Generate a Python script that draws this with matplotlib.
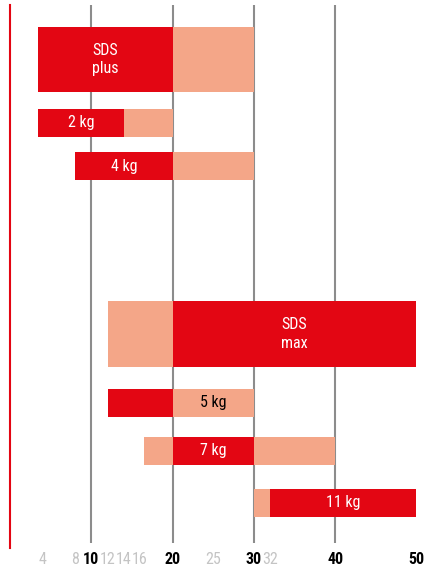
import matplotlib
matplotlib.use('Agg')
import matplotlib.pyplot as plt
from matplotlib import font_manager

# chart data: drill diameter ranges (mm) for each hammer class
row_labels = ['SDS\nplus', '2 kg', '4 kg', 'SDS\nmax', '5 kg', '7 kg', '11 kg']
dark_start = [3.5, 3.5, 8, 20, 12, 20, 32]
dark_end = [20, 14, 20, 50, 20, 30, 50]
light_ranges = [[(20, 30)], [(14, 20)], [(20, 30)], [(12, 20)],
                [(20, 30)], [(16.5, 20), (30, 40)], [(30, 32)]]
label_on_light = [False, False, False, False, True, False, False]

tick_values = [4, 8, 10, 12, 14, 16, 20, 25, 30, 32, 40, 50]
major_ticks = [10, 20, 30, 40, 50]
grid_x = [10, 20, 30, 40]

DARK = '#e30613'
LIGHT = '#f4a688'
GRID = '#8c8c8c'

# pick a narrow face if one is installed
names = {f.name for f in font_manager.fontManager.ttflist}
font_kw = {}
narrow = False
for cand in ['Roboto Condensed', 'Liberation Sans Narrow', 'Open Sans Condensed',
             'Noto Sans Condensed', 'DejaVu Sans Condensed']:
    if cand in names:
        font_kw = {'family': [cand, 'DejaVu Sans']}
        narrow = True
        break
if not narrow:
    cond = [f for f in font_manager.fontManager.ttflist
            if f.name == 'DejaVu Sans' and 'condensed' in str(f.stretch)]
    if cond:
        font_kw = {'family': ['DejaVu Sans'], 'stretch': 'condensed'}
        narrow = True
    else:
        font_kw = {'family': ['Roboto', 'DejaVu Sans']}

W, H = 429, 567
# row layout in pixel rows (top-down)
row_center = [59.5, 123, 166, 334, 403, 451, 503]
row_height = [65, 28, 28, 66, 28, 28, 28]

fig = plt.figure(figsize=(W / 100, H / 100), dpi=100)
top, bottom = 5, 548
ax = fig.add_axes([10 / W, (H - bottom) / H, (418 - 10) / W, (bottom - top) / H])
ax.set_xlim(0, 50.2)
ax.set_ylim(bottom, top)

ax.vlines(grid_x, top, 543, color=GRID, lw=1.5, zorder=1)

lab_size = 11.5 if narrow else 10.5
for i, lab in enumerate(row_labels):
    y = row_center[i]
    h = row_height[i]
    ax.barh(y, dark_end[i] - dark_start[i], left=dark_start[i], height=h,
            color=DARK, zorder=2)
    for s, e in light_ranges[i]:
        ax.barh(y, e - s, left=s, height=h, color=LIGHT, zorder=2)
    if label_on_light[i]:
        s, e = light_ranges[i][0]
        ax.text((s + e) / 2, y, lab, ha='center', va='center', color='black',
                fontsize=lab_size, zorder=3, **font_kw)
    else:
        ax.text((dark_start[i] + dark_end[i]) / 2, y, lab, ha='center',
                va='center', color='white', fontsize=lab_size, linespacing=1.3,
                zorder=3, **font_kw)

for sp in ['top', 'right', 'bottom']:
    ax.spines[sp].set_visible(False)
ax.spines['left'].set_color(DARK)
ax.spines['left'].set_linewidth(1.5)
ax.set_yticks([])

ax.set_xticks(tick_values)
ax.set_xticklabels([str(v) for v in tick_values])
ax.tick_params(axis='x', length=0, pad=3)
for t, v in zip(ax.get_xticklabels(), tick_values):
    t.set_family(font_kw['family'])
    if 'stretch' in font_kw:
        t.set_stretch(font_kw['stretch'])
    if v in major_ticks:
        t.set_color('black')
        t.set_fontweight('bold')
        t.set_fontsize(11.5 if narrow else 10.5)
    else:
        t.set_color('#c4c4c4')
        t.set_fontsize(11.5 if narrow else 8.5)

fig.savefig('out.png', dpi=100)
